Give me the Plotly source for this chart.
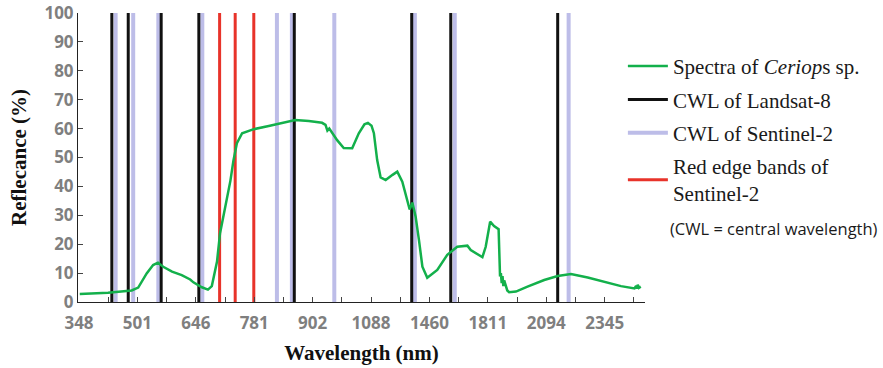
import numpy as np
import plotly.graph_objects as go

# ---- data ----
tick_labels = [348, 501, 646, 781, 902, 1088, 1460, 1811, 2094, 2345]

wavelength = [350, 424, 486, 503, 524, 540, 552, 565, 587, 611, 632, 640, 660, 674, 683,
              695, 702, 714, 726, 733, 741, 753, 780, 811, 839, 866, 894, 932, 943, 949,
              955, 965, 980, 1001, 1028, 1049, 1067, 1078, 1091, 1106, 1127, 1149, 1181,
              1225, 1255, 1287, 1319, 1334, 1351, 1372, 1393, 1415, 1446, 1507, 1567, 1627,
              1688, 1708, 1778, 1798, 1822, 1841, 1863, 1870, 1874, 1878, 1882, 1886, 1890,
              1898, 1905, 1914, 1947, 2003, 2084, 2143, 2200, 2272, 2343, 2415, 2473, 2480,
              2484, 2487, 2492, 2500]
reflectance = [2.8, 3.2, 4.0, 5.0, 9.9, 12.8, 13.6, 12.2, 10.5, 9.3, 7.8, 6.8, 5.1, 4.3, 5.5,
               14.0, 23.8, 33.0, 42.0, 49.0, 55.0, 58.4, 59.8, 60.9, 62.0, 63.0, 62.6, 62.0, 61.3, 59.3,
               60.0, 58.4, 56.0, 53.3, 53.2, 58.4, 61.5, 62.0, 61.0, 58.4, 49.1, 43.1, 42.2,
               44.0, 45.1, 41.6, 35.3, 32.0, 34.4, 29.5, 21.5, 12.2, 8.4, 11.1, 16.3, 19.1,
               19.5, 18.0, 15.5, 19.1, 27.8, 26.3, 25.2, 8.8, 10.0, 6.5, 9.0, 5.5, 7.5,
               5.3, 4.0, 3.4, 3.6, 5.3, 7.6, 9.0, 9.7, 8.5, 7.0, 5.5, 4.7, 5.6,
               4.6, 6.0, 4.9, 5.3]

landsat8_cwl = [434, 477, 560, 653, 864, 1347, 1588, 2143]
sentinel2_cwl = [444, 490, 553, 661, 828, 859, 971, 1367, 1612, 2190]
red_edge_cwl = [701, 737, 780]

# ---- category-style axis (equal spacing between labelled wavelengths) ----
ext_wl = tick_labels + [tick_labels[-1] + (tick_labels[-1] - tick_labels[-2])]
ext_idx = list(range(len(ext_wl)))


def to_axis(w):
    return np.interp(np.asarray(w, dtype=float), ext_wl, ext_idx)


def vlines(ws):
    xs, ys = [], []
    for p in to_axis(ws):
        xs += [p, p, None]
        ys += [0, 100, None]
    return xs, ys


GREEN = "#13b04b"
BLACK = "#111111"
LAV = "#bdbde8"
RED = "#e8332a"
GREY = "#7f7f7f"

fig = go.Figure()

x, y = vlines(sentinel2_cwl)
fig.add_trace(go.Scatter(x=x, y=y, mode="lines", line=dict(color=LAV, width=4),
                         name="CWL of Sentinel-2", legendrank=3, legendgroup="s2",
                         hoverinfo="skip"))
x, y = vlines(landsat8_cwl)
fig.add_trace(go.Scatter(x=x, y=y, mode="lines", line=dict(color=BLACK, width=3),
                         name="CWL of Landsat-8", legendrank=2, legendgroup="l8",
                         hoverinfo="skip"))
x, y = vlines(red_edge_cwl)
fig.add_trace(go.Scatter(x=x, y=y, mode="lines", line=dict(color=RED, width=3),
                         name="Red edge bands of<br>Sentinel-2", legendrank=4, legendgroup="re",
                         hoverinfo="skip"))
fig.add_trace(go.Scatter(x=to_axis(wavelength), y=reflectance, mode="lines",
                         line=dict(color=GREEN, width=2.5), legendgroup="sp",
                         name="Spectra of <i>Ceriop</i>s sp.", legendrank=1))

tickvals = list(np.arange(0, 10, 0.5))
ticktext = [str(tick_labels[int(v)]) if float(v).is_integer() else "" for v in tickvals]

tickfont = dict(family="Open Sans, Arial, sans-serif", size=17, color=GREY, weight="bold")
titlefont = dict(family="Liberation Serif, Times New Roman, serif", size=21, color="#111111",
                 weight="bold")

fig.update_layout(
    width=883, height=368,
    margin=dict(l=78, r=238, t=13, b=66, autoexpand=False),
    paper_bgcolor="white", plot_bgcolor="white",
    showlegend=True,
    legend=dict(x=0.961, xanchor="left", y=0.886, yanchor="top",
                font=dict(family="Liberation Serif, Times New Roman, serif", size=21,
                          color="#1a1a1a"),
                itemwidth=40, tracegroupgap=3, bgcolor="rgba(0,0,0,0)"),
    xaxis=dict(range=[-0.017, 9.69], tickmode="array", tickvals=tickvals, ticktext=ticktext,
               showgrid=False, zeroline=False, showline=True, linecolor="#222222", linewidth=1,
               ticks="inside", ticklen=5, tickcolor="#444444", tickfont=tickfont,
               ticklabelstandoff=6, automargin=False,
               title=dict(text="Wavelength (nm)", font=titlefont, standoff=11)),
    yaxis=dict(range=[0, 100], tickmode="array", tickvals=list(range(0, 101, 10)),
               showgrid=False, zeroline=False, showline=True, linecolor="#222222", linewidth=1,
               ticks="inside", ticklen=5, tickcolor="#444444", tickfont=tickfont,
               automargin=False,
               title=dict(text="Reflecance (%)", font=titlefont, standoff=12)),
    annotations=[dict(text="(CWL = central wavelength)", xref="paper", yref="paper",
                      x=1.2275, y=0.256, xanchor="center", yanchor="middle", showarrow=False,
                      font=dict(family="Open Sans, Arial, sans-serif", size=16.5, color="#1a1a1a"))],
)

fig.write_html("out.html")
